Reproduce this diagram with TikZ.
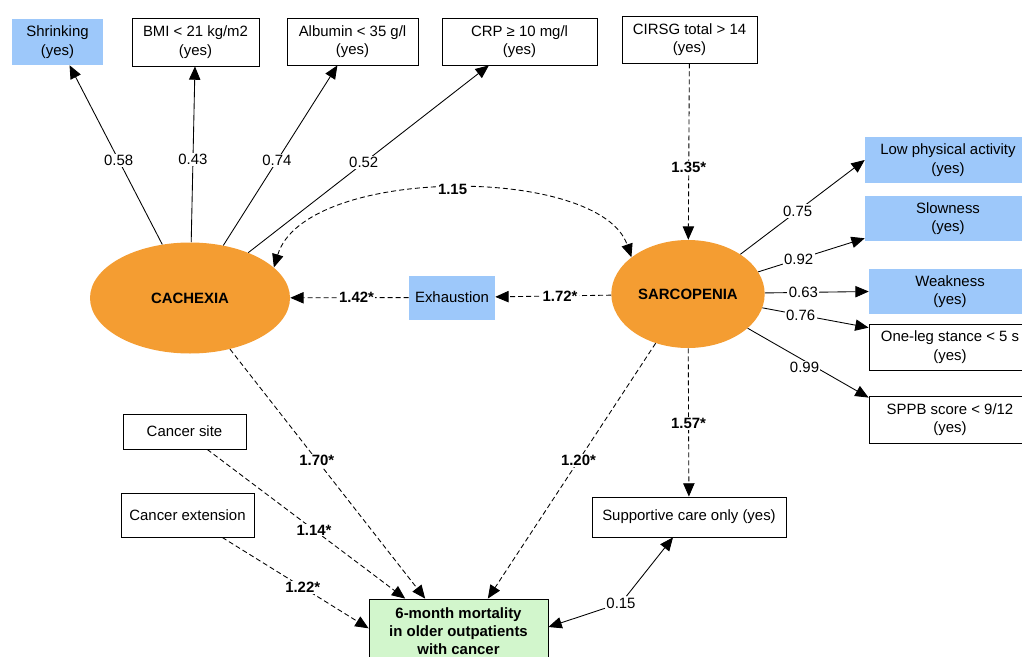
\documentclass[tikz,border=0pt]{standalone}
\usepackage{fontspec}
\setmainfont{Liberation Sans}
\usetikzlibrary{arrows.meta,shapes.geometric}
\definecolor{latent}{RGB}{244,157,50}
\definecolor{item}{RGB}{157,200,250}
\definecolor{outcome}{RGB}{210,246,204}
\begin{document}
\begin{tikzpicture}[x=0.75pt,y=-0.75pt,
  every node/.style={font=\fontsize{11.2}{14}\selectfont,align=center},
  latentvar/.style={ellipse,fill=latent,font=\fontsize{11.2}{14}\selectfont\bfseries},
  obs/.style={rectangle,draw,line width=0.6pt,inner sep=2pt},
  blueobs/.style={rectangle,fill=item,inner sep=2pt},
  coef/.style={fill=white,inner sep=1pt},
  sigcoef/.style={coef,font=\fontsize{11.2}{14}\selectfont\bfseries},
  loading/.style={line width=0.65pt,-{Triangle[length=10pt,width=8.5pt]}},
  twoway/.style={line width=0.65pt,{Triangle[length=10pt,width=8.5pt]}-{Triangle[length=10pt,width=8.5pt]}},
  effect/.style={loading,dash pattern=on 3.75pt off 2.25pt},
  dtwoway/.style={twoway,dash pattern=on 3.75pt off 2.25pt}]
\useasboundingbox (0,0) rectangle (1022,657);
\clip (0,0) rectangle (1022,657);

\node[latentvar,minimum width=150pt,minimum height=83.25pt] (cachexia) at (190,298) {CACHEXIA};
\node[latentvar,minimum width=114.75pt,minimum height=81pt] (sarcopenia) at (688,294) {SARCOPENIA};

\node[blueobs,minimum width=68.25pt,minimum height=34.5pt] (shrinking) at (57.5,42) {Shrinking\\(yes)};
\node[obs,minimum width=95.25pt,minimum height=36pt] (bmi) at (195.5,42) {BMI < 21 kg/m2\\(yes)};
\node[obs,minimum width=98.25pt,minimum height=35.25pt] (albumin) at (352.5,41.5) {Albumin < 35 g/l\\(yes)};
\node[obs,minimum width=116.25pt,minimum height=35.25pt] (crp) at (519.5,41.5) {CRP ≥ 10 mg/l\\(yes)};
\node[obs,minimum width=101.25pt,minimum height=35.25pt] (cirsg) at (689.5,39.5) {CIRSG total > 14\\(yes)};

\node[blueobs,minimum width=124.5pt,minimum height=34.5pt] (lowpa) at (948,160) {Low physical activity\\(yes)};
\node[blueobs,minimum width=124.5pt,minimum height=33.75pt] (slowness) at (948,218.5) {Slowness\\(yes)};
\node[blueobs,minimum width=121.5pt,minimum height=33.75pt] (weakness) at (950,291.5) {Weakness\\(yes)};
\node[obs,minimum width=121.5pt,minimum height=34.5pt] (oneleg) at (950,347) {One-leg stance < 5 s\\(yes)};
\node[obs,minimum width=121.5pt,minimum height=35.25pt] (sppb) at (950,419.5) {SPPB score < 9/12\\(yes)};

\node[blueobs,minimum width=64.5pt,minimum height=33pt] (exhaustion) at (452,297.5) {Exhaustion};
\node[obs,minimum width=92.25pt,minimum height=26.25pt] (cancersite) at (184.5,431.5) {Cancer site};
\node[obs,minimum width=99.75pt,minimum height=33pt] (cancerext) at (187.5,515) {Cancer extension};
\node[obs,minimum width=145.5pt,minimum height=30pt] (supportive) at (689,517) {Supportive care only (yes)};
\node[obs,fill=outcome,minimum width=134.25pt,minimum height=48pt,font=\fontsize{11.2}{13.5}\selectfont\bfseries] (mortality) at (458.5,631) {6-month mortality\\in older outpatients\\with cancer};

\draw[loading] (cachexia) -- node[coef,pos=0.47] (l058) {0.58} (shrinking);
\draw[loading] (cachexia) -- node[coef,pos=0.47] (l043) {0.43} (bmi);
\draw[loading] (cachexia) -- node[coef,pos=0.47] (l074) {0.74} (albumin);
\draw[loading] (cachexia) -- node[coef,pos=0.48] (l052) {0.52} (crp);

\draw[loading] (sarcopenia) -- node[coef,pos=0.46] (l075) {0.75} (lowpa.west);
\draw[loading] (sarcopenia) -- node[coef,pos=0.38] (l092) {0.92} ([yshift=2.25pt]slowness.south west);
\draw[loading] (sarcopenia) -- node[coef,pos=0.37] (l063) {0.63} (weakness.west);
\draw[loading] (sarcopenia) -- node[coef,pos=0.36] (l076) {0.76} ([yshift=-3pt]oneleg.north west);
\draw[loading] (sarcopenia) -- node[coef,pos=0.47,yshift=-5pt] (l099) {0.99} ([yshift=-1.5pt]sppb.north west);

\draw[effect] (cirsg) -- node[sigcoef,pos=0.59] (l135) {1.35*} (sarcopenia);
\draw[dtwoway] (cachexia.20) .. controls (305,165) and (600,165) .. node[sigcoef] (l115) {1.15} (sarcopenia.147);
\draw[effect] (sarcopenia) -- node[sigcoef,pos=0.44] (l172) {1.72*} (exhaustion);
\draw[effect] (exhaustion) -- node[sigcoef,pos=0.44] (l142) {1.42*} (cachexia);

\draw[effect] (cachexia) -- node[sigcoef,pos=0.445] (l170) {1.70*} ([xshift=-25pt]mortality.north);
\draw[effect] (sarcopenia) -- node[sigcoef,pos=0.46] (l120) {1.20*} ([xshift=22pt]mortality.north);
\draw[effect] (sarcopenia) -- node[sigcoef,pos=0.51] (l157) {1.57*} (supportive);
\draw[effect] ([xshift=17pt]cancersite.south) -- node[sigcoef,pos=0.54] (l114) {1.14*} ([xshift=-40pt]mortality.north);
\draw[effect] ([xshift=26pt]cancerext.south) -- node[sigcoef,pos=0.55] (l122) {1.22*} ([yshift=2pt]mortality.west);

\node[coef] (l015) at (621,603) {0.15};
\draw[loading] (l015) -- ([xshift=-12pt]supportive.south);
\draw[loading] (l015) -- ([yshift=3pt]mortality.east);
\end{tikzpicture}
\end{document}
